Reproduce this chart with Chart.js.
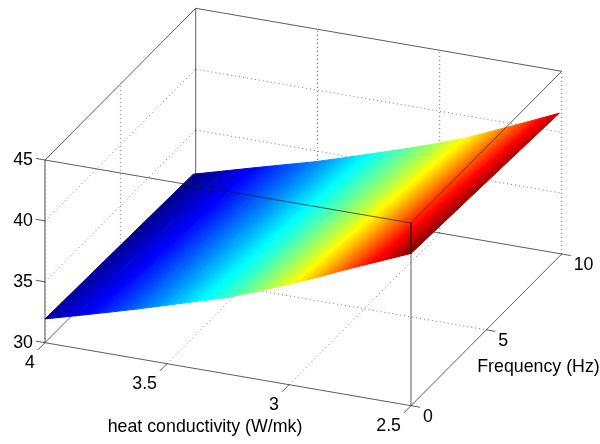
<!DOCTYPE html>
<html>
<head>
<meta charset="utf-8">
<style>
  html, body { margin: 0; padding: 0; background: #fff; }
  canvas { display: block; }
</style>
</head>
<body>
<canvas id="surface-chart" width="600" height="444"></canvas>
<script src="https://cdn.jsdelivr.net/npm/chart.js@4"></script>
<script>
// surface samples
const conductivity = [4, 3.875, 3.75, 3.625, 3.5, 3.375, 3.25, 3.125, 3, 2.875, 2.75, 2.625, 2.5];
const frequency = [0, 5, 9.84];
const tempAtF0 = [31.95, 32.64, 33.34, 34.05, 34.8, 35.55, 36.3, 37.25, 38.24, 39.3, 40.4, 41.45, 42.5];
const tempAtF5 = [31.77, 32.45, 33.15, 33.85, 34.57, 35.33, 36.1, 36.98, 37.9, 38.9, 39.98, 41.05, 42.13];
const tempAtF10 = [31.58, 32.27, 32.97, 33.65, 34.33, 35.1, 35.9, 36.7, 37.55, 38.48, 39.55, 40.65, 41.76];
const temperature = [tempAtF0, tempAtF5, tempAtF10];

const kTicks = [4, 3.5, 3, 2.5];
const fTicks = [0, 5, 10];
const tTicks = [30, 35, 40, 45];
const kTitle = 'heat conductivity (W/mk)';
const fTitle = 'Frequency (Hz)';

const FONT = '17.8px "Liberation Sans", Arial, sans-serif';
const SOLID = 'rgba(30,30,30,0.72)';
const DOTTED = 'rgba(30,30,30,0.6)';

// orthographic view of the box
function project(k, f, t) {
    return {
        x: 45 + (4 - k) * 244 + f * 15.07,
        y: 342.7 + (4 - k) * 42 - f * 15.17 - (t - 30) * 12.18
    };
}

const JET_STOPS = [
    [0, [0, 0, 128]],
    [0.125, [0, 0, 255]],
    [0.375, [0, 255, 255]],
    [0.625, [255, 255, 0]],
    [0.875, [255, 0, 0]],
    [1, [128, 0, 0]]
];
const tMin = Math.min(...tempAtF10);
const tMax = Math.max(...tempAtF0);

function jet(v) {
    const u = Math.min(1, Math.max(0, v));
    for (let i = 1; i < JET_STOPS.length; i++) {
        if (u <= JET_STOPS[i][0]) {
            const a = JET_STOPS[i - 1];
            const b = JET_STOPS[i];
            const r = (u - a[0]) / (b[0] - a[0]);
            const c = a[1].map(function(ch, n) { return Math.round(ch + (b[1][n] - ch) * r); });
            return 'rgb(' + c.join(',') + ')';
        }
    }
    return 'rgb(128,0,0)';
}

// gradient over one cell, running along the temperature slope on screen
function cellGradient(chart, i, j) {
    const sx = chart.scales.x;
    const sy = chart.scales.y;
    const px = function(a, b) {
        const p = project(conductivity[a], frequency[b], temperature[b][a]);
        return { x: sx.getPixelForValue(p.x), y: sy.getPixelForValue(p.y), t: temperature[b][a] };
    };
    const p00 = px(i, j), p10 = px(i + 1, j), p01 = px(i, j + 1), p11 = px(i + 1, j + 1);
    const e1 = { x: (p10.x + p11.x - p00.x - p01.x) / 2, y: (p10.y + p11.y - p00.y - p01.y) / 2 };
    const e2 = { x: (p01.x + p11.x - p00.x - p10.x) / 2, y: (p01.y + p11.y - p00.y - p10.y) / 2 };
    const d1 = (p10.t + p11.t - p00.t - p01.t) / 2;
    const d2 = (p01.t + p11.t - p00.t - p10.t) / 2;
    const det = e1.x * e2.y - e1.y * e2.x;
    const gx = (d1 * e2.y - d2 * e1.y) / det;
    const gy = (e1.x * d2 - e2.x * d1) / det;
    const g2 = gx * gx + gy * gy;
    const cx = (p00.x + p10.x + p01.x + p11.x) / 4;
    const cy = (p00.y + p10.y + p01.y + p11.y) / 4;
    const tc = (p00.t + p10.t + p01.t + p11.t) / 4;
    const lo = Math.min(p00.t, p10.t, p01.t, p11.t);
    const hi = Math.max(p00.t, p10.t, p01.t, p11.t);
    const grad = chart.ctx.createLinearGradient(
        cx + gx / g2 * (lo - tc), cy + gy / g2 * (lo - tc),
        cx + gx / g2 * (hi - tc), cy + gy / g2 * (hi - tc)
    );
    grad.addColorStop(0, jet((lo - tMin) / (tMax - tMin)));
    JET_STOPS.forEach(function(stop) {
        const t = tMin + stop[0] * (tMax - tMin);
        if (t > lo && t < hi) {
            grad.addColorStop((t - lo) / (hi - lo), jet(stop[0]));
        }
    });
    grad.addColorStop(1, jet((hi - tMin) / (tMax - tMin)));
    return grad;
}

function cellDataset(i, j) {
    const corner = function(a, b) { return project(conductivity[a], frequency[b], temperature[b][a]); };
    const color = function(context) {
        if (!context.chart.chartArea) return 'transparent';
        return cellGradient(context.chart, i, j);
    };
    return {
        data: [corner(i, j), corner(i + 1, j), corner(i + 1, j + 1), corner(i, j + 1), corner(i, j)],
        showLine: true,
        fill: 'shape',
        backgroundColor: color,
        borderColor: color,
        borderWidth: 1,
        pointRadius: 0,
        order: 2
    };
}

function linesDataset(segments, color, dash, order) {
    const data = [];
    segments.forEach(function(s) {
        data.push(project(s[0], s[1], s[2]), project(s[3], s[4], s[5]), { x: NaN, y: NaN });
    });
    return {
        data: data,
        showLine: true,
        fill: false,
        borderColor: color,
        borderWidth: 1,
        borderDash: dash,
        pointRadius: 0,
        order: order
    };
}

const K0 = kTicks[0], K1 = kTicks[kTicks.length - 1];
const F0 = fTicks[0], F1 = fTicks[fTicks.length - 1];
const T0 = tTicks[0], T1 = tTicks[tTicks.length - 1];

// dotted grid on the floor and both back walls
const gridLines = [
    [K0, F0, T0, K0, F0, T1],
    [K1, F1, T0, K1, F1, T1],
    [K0, 5, T0, K0, 5, T1],
    [K0, 5, T0, K1, 5, T0]
];
[3.5, 3].forEach(function(k) {
    gridLines.push([k, F0, T0, k, F1, T0], [k, F1, T0, k, F1, T1]);
});
[35, 40].forEach(function(t) {
    gridLines.push([K0, F0, t, K0, F1, t], [K0, F1, t, K1, F1, t]);
});

// box edges and tick marks behind the surface
const backLines = [
    [K0, F0, T0, K0, F0, T1],
    [K0, F1, T0, K0, F1, T1],
    [K0, F0, T0, K1, F0, T0],
    [K1, F0, T0, K1, F1, T0],
    [K0, F0, T0, K0, F1, T0],
    [K0, F1, T0, K1, F1, T0],
    [K0, F0, T1, K0, F1, T1],
    [K0, F1, T1, K1, F1, T1],
    [K1, F0, T0, K1, F0, T1]
];
kTicks.forEach(function(k) { backLines.push([k, F0, T0, k, -0.48, T0]); });
fTicks.forEach(function(f) { backLines.push([K1, f, T0, K1 - 0.037, f, T0]); });
tTicks.forEach(function(t) { backLines.push([K0, F0, t, K0 + 0.037, F0, t]); });

// the three edges that cross over the surface
const frontLines = [
    [K0, F0, T1, K1, F0, T1],
    [K1, F0, T1, K1, F1, T1],
    [K1, F0, T1, K1, F0, 42.5]
];

const datasets = [
    linesDataset(gridLines, DOTTED, [1, 3], 4),
    linesDataset(backLines, SOLID, [], 3),
    linesDataset(frontLines, SOLID, [], 1)
];
for (let j = 0; j < frequency.length - 1; j++) {
    for (let i = 0; i < conductivity.length - 1; i++) {
        datasets.push(cellDataset(i, j));
    }
}

const tickLabels = {
    id: 'tickLabels',
    afterDraw: function(chart) {
        const ctx = chart.ctx;
        const sx = chart.scales.x;
        const sy = chart.scales.y;
        const put = function(text, k, f, t, dx, dy, align) {
            const p = project(k, f, t);
            ctx.textAlign = align;
            ctx.fillText(text, sx.getPixelForValue(p.x) + dx, sy.getPixelForValue(p.y) + dy);
        };
        ctx.save();
        ctx.font = FONT;
        ctx.fillStyle = '#000';
        ctx.textBaseline = 'middle';
        tTicks.forEach(function(t) { put(String(t), K0, F0, t, -12, 0.5, 'right'); });
        kTicks.forEach(function(k) { put(String(k), k, F0, T0, -10, 20, 'right'); });
        fTicks.forEach(function(f) { put(String(f), K1, f, T0, 12, 11.5, 'left'); });
        ctx.textAlign = 'center';
        ctx.fillText(kTitle, 205, 427);
        ctx.fillText(fTitle, 538.5, 367.5);
        ctx.restore();
    }
};

new Chart(document.getElementById('surface-chart'), {
    type: 'scatter',
    data: { datasets: datasets },
    plugins: [tickLabels],
    options: {
        responsive: false,
        animation: false,
        layout: { padding: 0 },
        elements: { line: { tension: 0 } },
        plugins: {
            legend: { display: false },
            tooltip: { enabled: false }
        },
        scales: {
            x: { type: 'linear', display: false, min: 0, max: 600 },
            y: { type: 'linear', display: false, min: 0, max: 444, reverse: true }
        }
    }
});
</script>
</body>
</html>
